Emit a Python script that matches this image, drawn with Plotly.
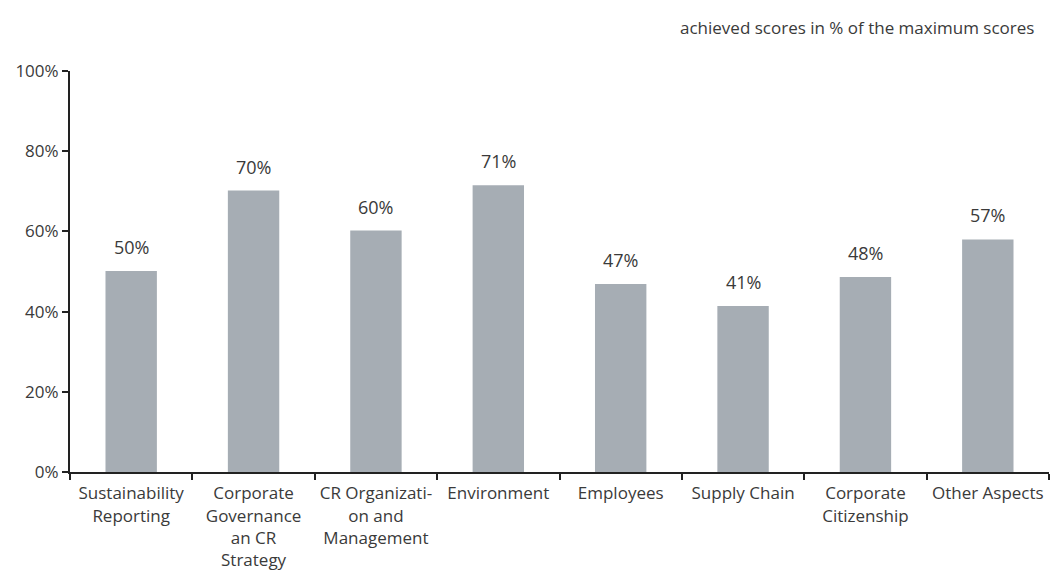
import plotly.graph_objects as go

categories = ["Sustainability<br>Reporting", "Corporate<br>Governance<br>an CR<br>Strategy",
              "CR Organizati-<br>on and<br>Management", "Environment", "Employees",
              "Supply Chain", "Corporate<br>Citizenship", "Other Aspects"]
values = [50.1, 70.2, 60.2, 71.5, 46.9, 41.4, 48.6, 58.0]
labels = ["50%", "70%", "60%", "71%", "47%", "41%", "48%", "57%"]
y_ticks = [0, 20, 40, 60, 80, 100]
y_tick_labels = ["0%", "20%", "40%", "60%", "80%", "100%"]

FONT = "Open Sans"
TXT = "#3a3a3a"

fig = go.Figure()
fig.add_trace(go.Bar(x=categories, y=values, marker_color="#A6ADB4",
                     marker_line_width=0, width=0.42, hoverinfo="skip"))

for c, v, l in zip(categories, values, labels):
    fig.add_annotation(x=c, y=v, text=l, showarrow=False, yanchor="bottom",
                       yshift=10, font=dict(family=FONT, size=18, color=TXT))

fig.add_annotation(xref="paper", yref="paper", x=0.987, y=1.0, yshift=44,
                   xanchor="right", yanchor="middle", showarrow=False,
                   text="achieved scores in % of the maximum scores",
                   font=dict(family=FONT, size=17, color=TXT))

fig.update_layout(
    width=1051, height=574,
    margin=dict(l=70, r=2, t=71, b=102, autoexpand=False),
    paper_bgcolor="white", plot_bgcolor="white",
    showlegend=False, bargap=0.58,
    font=dict(family=FONT, size=17, color=TXT),
)
fig.update_xaxes(showline=True, linecolor="#222222", linewidth=2,
                 ticks="outside", tickson="boundaries", ticklen=6, tickwidth=2,
                 tickcolor="#222222", showgrid=False, ticklabelstandoff=5,
                 tickangle=0, automargin=False,
                 tickfont=dict(family=FONT, size=17, color=TXT))
fig.update_yaxes(range=[0, 100], tickvals=y_ticks, ticktext=y_tick_labels,
                 showline=True, linecolor="#222222", linewidth=2,
                 ticks="outside", ticklen=6, tickwidth=2, tickcolor="#222222",
                 showgrid=False, zeroline=False, automargin=False,
                 tickfont=dict(family=FONT, size=17, color=TXT))

fig.write_html("out.html")
